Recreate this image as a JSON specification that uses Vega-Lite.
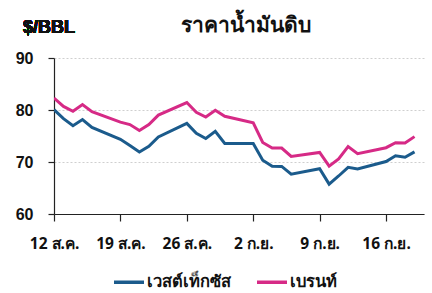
{
  "$schema": "https://vega.github.io/schema/vega-lite/v6.json",
  "width": 370,
  "height": 156,
  "autosize": {"type": "none"},
  "padding": {"left": 54, "top": 58, "right": 8, "bottom": 79},
  "background": "white",
  "title": {
    "text": "ราคาน้ำมันดิบ",
    "font": "Noto Sans",
    "fontSize": 21,
    "fontWeight": "bold",
    "color": "#111111",
    "anchor": "middle",
    "frame": "group",
    "dx": 7,
    "offset": -17
  },
  "config": {
    "view": {"stroke": null},
    "font": "Noto Sans"
  },
  "datasets": {
    "oil": [
      {"date": "2024-08-12", "WTI": 80.06, "Brent": 82.30},
      {"date": "2024-08-13", "WTI": 78.35, "Brent": 80.69},
      {"date": "2024-08-14", "WTI": 76.98, "Brent": 79.76},
      {"date": "2024-08-15", "WTI": 78.16, "Brent": 81.04},
      {"date": "2024-08-16", "WTI": 76.65, "Brent": 79.68},
      {"date": "2024-08-19", "WTI": 74.37, "Brent": 77.66},
      {"date": "2024-08-20", "WTI": 73.17, "Brent": 77.20},
      {"date": "2024-08-21", "WTI": 71.93, "Brent": 76.05},
      {"date": "2024-08-22", "WTI": 73.01, "Brent": 77.22},
      {"date": "2024-08-23", "WTI": 74.83, "Brent": 79.02},
      {"date": "2024-08-26", "WTI": 77.42, "Brent": 81.43},
      {"date": "2024-08-27", "WTI": 75.53, "Brent": 79.55},
      {"date": "2024-08-28", "WTI": 74.52, "Brent": 78.65},
      {"date": "2024-08-29", "WTI": 75.91, "Brent": 79.94},
      {"date": "2024-08-30", "WTI": 73.55, "Brent": 78.80},
      {"date": "2024-09-02", "WTI": 73.55, "Brent": 77.52},
      {"date": "2024-09-03", "WTI": 70.34, "Brent": 73.75},
      {"date": "2024-09-04", "WTI": 69.20, "Brent": 72.70},
      {"date": "2024-09-05", "WTI": 69.15, "Brent": 72.69},
      {"date": "2024-09-06", "WTI": 67.67, "Brent": 71.06},
      {"date": "2024-09-09", "WTI": 68.71, "Brent": 71.84},
      {"date": "2024-09-10", "WTI": 65.75, "Brent": 69.19},
      {"date": "2024-09-11", "WTI": 67.31, "Brent": 70.61},
      {"date": "2024-09-12", "WTI": 68.97, "Brent": 72.97},
      {"date": "2024-09-13", "WTI": 68.65, "Brent": 71.61},
      {"date": "2024-09-16", "WTI": 70.09, "Brent": 72.75},
      {"date": "2024-09-17", "WTI": 71.19, "Brent": 73.70},
      {"date": "2024-09-18", "WTI": 70.91, "Brent": 73.65},
      {"date": "2024-09-19", "WTI": 71.95, "Brent": 74.88}
    ]
  },
  "data": {"name": "oil"},
  "layer": [
    {
      "mark": {"type": "text", "text": "$/BBL", "font": "Liberation Sans", "fontSize": 18, "fontWeight": "bold", "color": "#111111", "align": "left", "baseline": "middle", "x": -31, "y": -30},
      "encoding": {}
    },
    {
      "transform": [
        {"fold": ["WTI", "Brent"], "as": ["series", "price"]},
        {"calculate": "datum.series === 'WTI' ? 'เวสต์เท็กซัส' : 'เบรนท์'", "as": "name"}
      ],
      "mark": {"type": "line", "strokeWidth": 3, "strokeJoin": "miter", "clip": true},
      "encoding": {
        "x": {
          "field": "date",
          "type": "temporal",
          "scale": {"type": "utc", "domain": ["2024-08-12", "2024-09-20"]},
          "axis": {
            "title": null,
            "values": ["2024-08-12", "2024-08-19", "2024-08-26", "2024-09-02", "2024-09-09", "2024-09-16"],
            "labelExpr": "utcdate(datum.value) + (utcmonth(datum.value) == 7 ? ' ส.ค.' : ' ก.ย.')",
            "labelFont": "Noto Sans",
            "labelFontSize": 15.5,
            "labelFontWeight": "bold",
            "labelColor": "#111111",
            "labelPadding": 15,
            "labelFlush": false,
            "labelOverlap": false,
            "grid": false,
            "domainColor": "#222222",
            "domainWidth": 1.2,
            "tickColor": "#222222",
            "tickSize": 7,
            "tickWidth": 1.2
          }
        },
        "y": {
          "field": "price",
          "type": "quantitative",
          "scale": {"domain": [60, 90], "nice": false, "zero": false},
          "axis": {
            "title": null,
            "values": [60, 70, 80, 90],
            "labelFont": "Liberation Sans",
            "labelFontSize": 16,
            "labelFontWeight": "bold",
            "labelColor": "#111111",
            "labelPadding": 15,
            "grid": true,
            "gridColor": "#cfcfcf",
            "gridDash": [2, 2],
            "gridWidth": 1,
            "domainColor": "#222222",
            "domainWidth": 1.2,
            "tickColor": "#222222",
            "tickSize": 6,
            "tickWidth": 1.2
          }
        },
        "color": {
          "field": "name",
          "type": "nominal",
          "scale": {"domain": ["เวสต์เท็กซัส", "เบรนท์"], "range": ["#1b5b8c", "#d62a86"]},
          "legend": {
            "title": null,
            "orient": "none",
            "direction": "horizontal",
            "legendX": 58,
            "legendY": 207,
            "symbolType": "stroke",
            "symbolStrokeWidth": 3.5,
            "symbolSize": 900,
            "labelFont": "Noto Sans",
            "labelFontSize": 16.5,
            "labelFontWeight": "bold",
            "labelColor": "#111111",
            "labelOffset": 1,
            "columnPadding": 19
          }
        }
      }
    }
  ]
}
